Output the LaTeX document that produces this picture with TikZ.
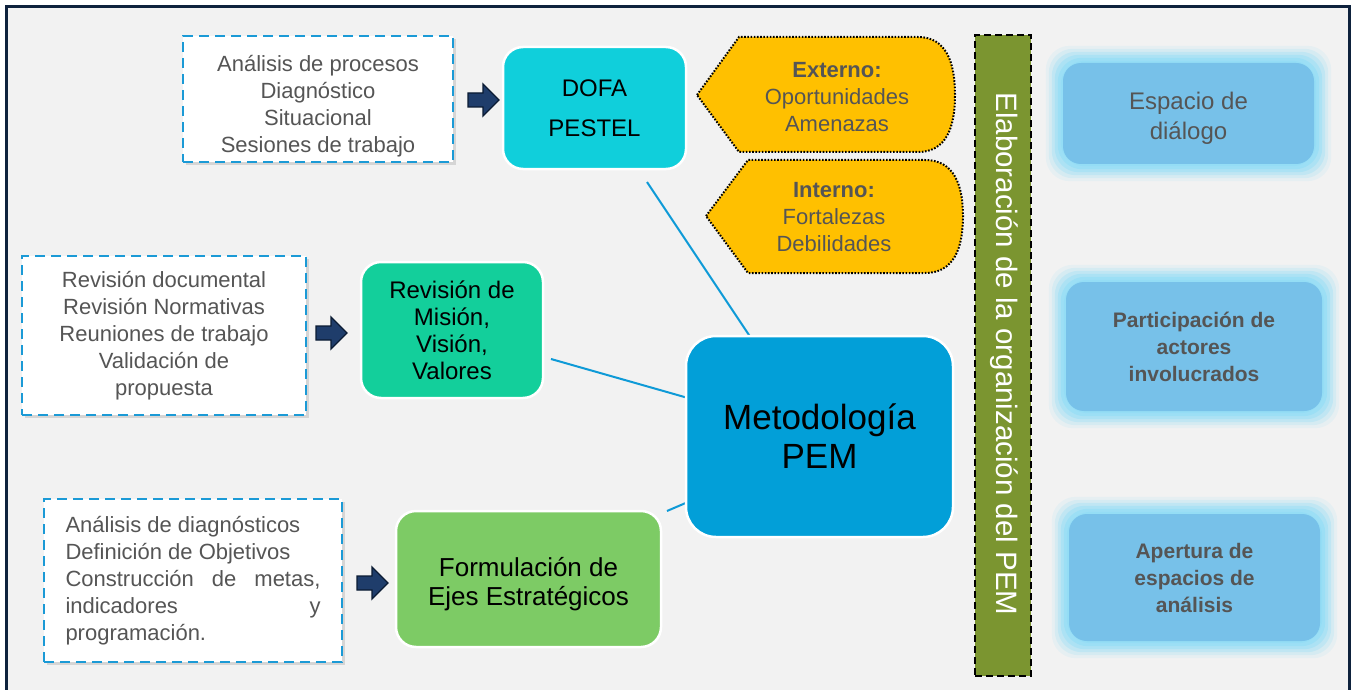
\documentclass[tikz,border=0pt]{standalone}
\usepackage{fontspec}
\setmainfont{Liberation Sans}
\usetikzlibrary{shadows}
\definecolor{bgc}{HTML}{F2F2F2}
\definecolor{framec}{HTML}{0E223D}
\definecolor{dashblue}{HTML}{1B9AD6}
\definecolor{txtgray}{HTML}{555555}
\definecolor{arrfill}{HTML}{1F3D6B}
\definecolor{arrline}{HTML}{0B1B33}
\definecolor{dofac}{HTML}{10CFDB}
\definecolor{revc}{HTML}{13CF9B}
\definecolor{formc}{HTML}{7DCB65}
\definecolor{metc}{HTML}{029FD8}
\definecolor{yelc}{HTML}{FFC000}
\definecolor{olivec}{HTML}{7B9530}
\definecolor{rbluec}{HTML}{77C1E9}
\definecolor{glowc}{HTML}{92DDF6}
\definecolor{connc}{HTML}{0E9AD7}
\newcommand\fs[2]{\fontsize{#1}{#2}\selectfont}
\newcommand\glowbehind[1]{%
  \foreach \g/\o in {17/0.12,14/0.2,11/0.3,8/0.42,5/0.6,2/0.75}{%
    \fill[glowc, opacity=\o, rounded corners=24pt]
      ([shift={(-\g,\g)}]#1.south west) rectangle ([shift={(\g,-\g)}]#1.north east);
  }%
}
\begin{document}
\begin{tikzpicture}[x=1pt,y=-1pt,
  dbox/.style={draw=dashblue, line width=2.5pt, dash pattern=on 10pt off 6pt,
    fill=white, drop shadow={shadow xshift=3pt, shadow yshift=-3pt, opacity=0.25},
    text=txtgray, align=center, inner sep=0pt},
  cbox/.style={draw=white, line width=2.5pt, rounded corners=20pt, text=black,
    align=center, inner sep=0pt},
  rbox/.style={fill=rbluec, rounded corners=18pt, text=txtgray, align=center, inner sep=0pt},
  yshape/.style={fill=yelc, draw=black, line width=2pt, dash pattern=on 1.6pt off 1.6pt},
  conn/.style={draw=connc, line width=2pt},
  barrow/.pic={\draw[fill=arrfill, draw=arrline, line width=1.3pt, line join=miter]
      (0,-7) -- (15,-7) -- (15,-16) -- (31,0) -- (15,16) -- (15,7) -- (0,7) -- cycle;}
]
\useasboundingbox (0,0) rectangle (1352,690);
\clip (0,0) rectangle (1352,690);
\fill[white] (0,0) rectangle (1352,690);
\fill[bgc] (6,6) rectangle (1350,720);
\draw[framec, line width=3pt] (6.5,6.5) rectangle (1349.5,720);

% connectors (behind)
\coordinate (l1s) at (647,182);
\coordinate (l1e) at (751,338);
\coordinate (l2s) at (551,359);
\coordinate (l2e) at (688,398);
\coordinate (l3s) at (667,511);
\coordinate (l3e) at (688,502);
\draw[conn] (l1s) -- (l1e);
\draw[conn] (l2s) -- (l2e);
\draw[conn] (l3s) -- (l3e);

% left dashed boxes
\node[dbox, font=\fs{22}{27}, minimum width=270pt, minimum height=126pt] (b1) at (318,99)
  {\rule{0pt}{30pt}Análisis de procesos\\Diagnóstico\\Situacional\\Sesiones de trabajo};
\node[dbox, font=\fs{22}{27}, minimum width=284pt, minimum height=159pt] (b2) at (164,335.5)
  {Revisión documental\\Revisión Normativas\\Reuniones de trabajo\\Validación de\\propuesta};
\node[dbox, font=\fs{22}{27}, minimum width=298pt, minimum height=163pt] (b3) at (193,580.5)
  {\parbox{255pt}{Análisis de diagnósticos\\Definición de Objetivos\\Construcción de metas,\linebreak indicadores y\linebreak programación.}};

% block arrows
\pic (a1) at (468,100) {barrow};
\pic (a2) at (316,333) {barrow};
\pic (a3) at (357,583) {barrow};

% coloured boxes
\node[cbox, fill=dofac, font=\fs{24}{40}, minimum width=183pt, minimum height=122pt] (dofa) at (594.5,108)
  {DOFA\\PESTEL};
\node[cbox, fill=revc, font=\fs{24}{27}, minimum width=182pt, minimum height=136pt] (rev) at (452,330)
  {Revisión de\\Misión,\\Visión,\\Valores};
\node[cbox, fill=formc, font=\fs{26}{29}, minimum width=265pt, minimum height=136pt] (form) at (528.5,579)
  {\rule{0pt}{29pt}Formulación de\\Ejes Estratégicos};
\node[cbox, fill=metc, font=\fs{35}{39}, rounded corners=30pt, minimum width=267pt, minimum height=201pt] (met) at (819.5,436.5)
  {Metodología\\PEM};

% yellow shapes
\draw[yshape] (697,95) -- (739,37) -- (918,37) .. controls (946,37) and (955,62) .. (955,95)
  .. controls (955,128) and (946,152) .. (918,152) -- (739,152) -- cycle;
\node[text=txtgray, align=center, inner sep=0pt, font=\fs{22}{27}] (ext) at (837,97)
  {\textbf{Externo:}\\Oportunidades\\Amenazas};
\draw[yshape] (706,216) -- (748,160) -- (925,160) .. controls (954,160) and (963,185) .. (963,216)
  .. controls (963,248) and (954,273) .. (925,273) -- (748,273) -- cycle;
\node[text=txtgray, align=center, inner sep=0pt, font=\fs{22}{27}] (int) at (834,217)
  {\textbf{Interno:}\\Fortalezas\\Debilidades};

% vertical bar
\node[fill=olivec, draw=black, line width=1.5pt, dash pattern=on 7pt off 4pt,
  minimum width=56pt, minimum height=641pt, inner sep=0pt] (bar) at (1003,355.5) {};
\node[rotate=-90, text=white, inner sep=0pt, font=\fs{29.5}{32}] (bartxt) at (1004,354)
  {Elaboración de la organización del PEM};

% right glowing boxes
\path node[rbox, minimum width=251pt, minimum height=101pt] (r1) at (1188.5,113.5) {};
\path node[rbox, minimum width=256pt, minimum height=129pt] (r2) at (1194,346.5) {};
\path node[rbox, minimum width=251pt, minimum height=127pt] (r3) at (1194.5,577.5) {};
\glowbehind{r1}
\glowbehind{r2}
\glowbehind{r3}
\node[rbox, font=\fs{24}{30}, minimum width=251pt, minimum height=101pt] (r1b) at (1188.5,113.5)
  {\rule{0pt}{26pt}Espacio de\\diálogo};
\node[rbox, font=\fs{21}{27}\bfseries, minimum width=256pt, minimum height=129pt] (r2b) at (1194,346.5)
  {Participación de\\actores\\involucrados};
\node[rbox, font=\fs{21}{27}\bfseries, minimum width=251pt, minimum height=127pt] (r3b) at (1194.5,577.5)
  {Apertura de\\espacios de\\análisis};
\end{tikzpicture}
\end{document}
